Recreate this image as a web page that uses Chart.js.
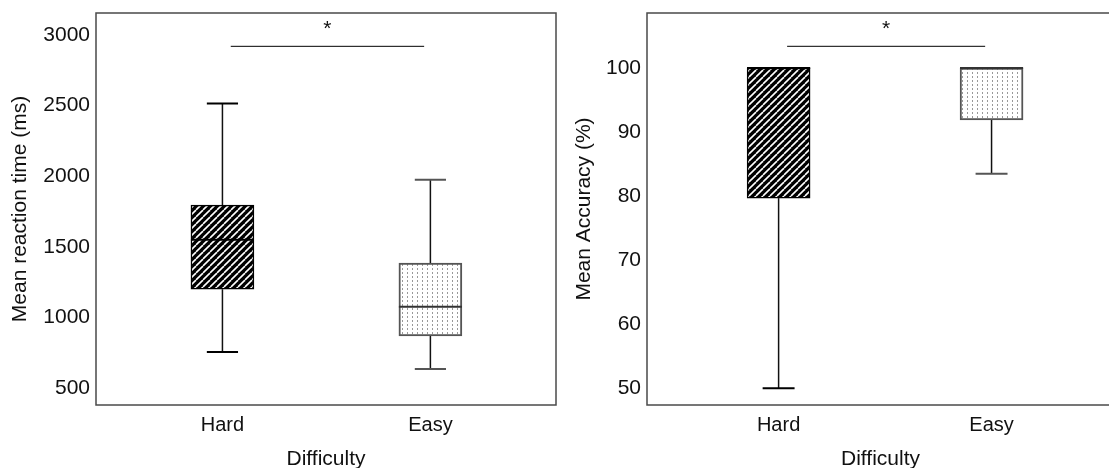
<!DOCTYPE html>
<html>
<head>
<meta charset="utf-8">
<script src="https://cdn.jsdelivr.net/npm/chart.js@4.4.1/dist/chart.umd.min.js"></script>
<style>
  body { margin: 0; background: #fff; overflow: hidden; }
  #wrap { position: relative; width: 1109px; height: 468px; overflow: hidden; }
  canvas { position: absolute; top: 0; }
  #rt { left: 0; }
  #acc { left: 560px; }
</style>
</head>
<body>
<div id="wrap">
  <canvas id="rt" width="560" height="468"></canvas>
  <canvas id="acc" width="554" height="468"></canvas>
</div>
<script>
const categories = ['Hard', 'Easy'];

// mean reaction time (ms)
const rtMin = [755, 635];
const rtQ1 = [1200, 870];
const rtMedian = [1550, 1075];
const rtQ3 = [1795, 1385];
const rtMax = [2515, 1975];
const rtTicks = [500, 1000, 1500, 2000, 2500, 3000];
const rtSig = 2920;

// mean accuracy (%)
const accMin = [50, 83.5];
const accQ1 = [79.7, 91.9];
const accMedian = [100, 100];
const accQ3 = [100, 100];
const accMax = [100, 100];
const accTicks = [50, 60, 70, 80, 90, 100];
const accSig = 103.4;

const FONT = "'Liberation Sans', Arial, sans-serif";
const TEXT = '#111';

function hatchPattern() {
  const c = document.createElement('canvas');
  c.width = 7; c.height = 7;
  const g = c.getContext('2d');
  g.fillStyle = '#000';
  g.fillRect(0, 0, 7, 7);
  g.strokeStyle = '#fff';
  g.lineWidth = 1.6;
  [-7, 0, 7].forEach(o => {
    g.beginPath();
    g.moveTo(o, 7);
    g.lineTo(o + 7, 0);
    g.stroke();
  });
  return g.createPattern(c, 'repeat');
}

function dotPattern() {
  const c = document.createElement('canvas');
  c.width = 5; c.height = 4;
  const g = c.getContext('2d');
  g.fillStyle = '#fff';
  g.fillRect(0, 0, 5, 4);
  g.fillStyle = '#999';
  g.fillRect(2, 0, 1, 2);
  return g.createPattern(c, 'repeat');
}

const boxFill = [hatchPattern(), dotPattern()];
const boxLine = ['#000', '#555'];

function boxParts(st) {
  return {
    id: 'boxParts',
    beforeDatasetsDraw(chart) {
      const {ctx, scales: {x, y}} = chart;
      ctx.save();
      categories.forEach((c, i) => {
        const px = x.getPixelForValue(i + 1);
        const half = x.getPixelForValue(i + 1.075) - px;
        ctx.strokeStyle = '#111';
        ctx.lineWidth = 1.5;
        ctx.beginPath();
        if (st.max[i] > st.q3[i]) {
          ctx.moveTo(px, y.getPixelForValue(st.q3[i]));
          ctx.lineTo(px, y.getPixelForValue(st.max[i]));
        }
        if (st.min[i] < st.q1[i]) {
          ctx.moveTo(px, y.getPixelForValue(st.q1[i]));
          ctx.lineTo(px, y.getPixelForValue(st.min[i]));
        }
        ctx.stroke();
        ctx.strokeStyle = boxLine[i];
        ctx.lineWidth = 2;
        ctx.beginPath();
        [st.min[i], st.max[i]].forEach(v => {
          const py = y.getPixelForValue(v);
          ctx.moveTo(px - half, py);
          ctx.lineTo(px + half, py);
        });
        ctx.stroke();
      });
      ctx.restore();
    },
    afterDatasetsDraw(chart) {
      const {ctx, scales: {x, y}} = chart;
      const bars = chart.getDatasetMeta(0).data;
      ctx.save();
      categories.forEach((c, i) => {
        const b = bars[i];
        const py = y.getPixelForValue(st.median[i]);
        ctx.strokeStyle = i === 0 ? '#000' : '#333';
        ctx.lineWidth = 2;
        ctx.beginPath();
        ctx.moveTo(b.x - b.width / 2, py);
        ctx.lineTo(b.x + b.width / 2, py);
        ctx.stroke();
        [st.max[i], st.min[i]].forEach(v => {
          if (v === st.q3[i] || v === st.q1[i]) {
            const vy = y.getPixelForValue(v);
            ctx.beginPath();
            ctx.moveTo(b.x - b.width / 2, vy);
            ctx.lineTo(b.x + b.width / 2, vy);
            ctx.stroke();
          }
        });
      });
      // significance bar
      const sy = y.getPixelForValue(st.sig);
      const x1 = x.getPixelForValue(1.04);
      const x2 = x.getPixelForValue(1.97);
      ctx.strokeStyle = '#000';
      ctx.lineWidth = 1;
      ctx.beginPath();
      ctx.moveTo(x1, sy);
      ctx.lineTo(x2, sy);
      ctx.stroke();
      ctx.fillStyle = TEXT;
      ctx.font = '21px ' + FONT;
      ctx.textAlign = 'center';
      ctx.textBaseline = 'alphabetic';
      ctx.fillText('*', (x1 + x2) / 2, sy - 11);
      // frame
      const a = chart.chartArea;
      ctx.strokeStyle = '#4a4a4a';
      ctx.lineWidth = 1.5;
      ctx.strokeRect(a.left, a.top, a.right - a.left, a.bottom - a.top);
      ctx.restore();
    }
  };
}

function makeBoxChart(id, st, cfg) {
  return new Chart(document.getElementById(id), {
    type: 'bar',
    data: {
      datasets: [{
        data: categories.map((c, i) => ({x: i + 1, y: [st.q1[i], st.q3[i]]})),
        backgroundColor: boxFill,
        borderColor: boxLine,
        borderWidth: [1.5, 2],
        borderSkipped: false,
        barThickness: 63
      }]
    },
    options: {
      responsive: false,
      animation: false,
      layout: {padding: {top: 13, right: cfg.padRight, left: 0, bottom: 0}},
      plugins: {legend: {display: false}, tooltip: {enabled: false}},
      scales: {
        x: {
          type: 'linear',
          offset: false,
          min: cfg.xMin,
          max: cfg.xMax,
          afterBuildTicks: a => { a.ticks = categories.map((c, i) => ({value: i + 1})); },
          ticks: {
            callback: v => categories[v - 1],
            color: TEXT,
            font: {family: FONT, size: 20},
            padding: 8,
            maxRotation: 0
          },
          grid: {display: false, drawTicks: false},
          border: {display: false},
          title: {display: true, text: 'Difficulty', color: TEXT, font: {family: FONT, size: 21, lineHeight: 0.8}, padding: {top: 0, bottom: 0}},
          afterFit: a => { a.height = 63; a.paddingLeft = 0; a.paddingRight = 0; }
        },
        y: {
          min: cfg.yMin,
          max: cfg.yMax,
          beginAtZero: false,
          afterBuildTicks: a => { a.ticks = cfg.ticks.map(v => ({value: v})); },
          ticks: {color: TEXT, font: {family: FONT, size: 21}, padding: 6, callback: v => String(v)},
          grid: {display: false, drawTicks: false},
          border: {display: false},
          title: {display: true, text: cfg.title, color: TEXT, font: {family: FONT, size: 21}, padding: {top: cfg.titlePad, bottom: 0}},
          afterFit: a => { a.width = cfg.yWidth; a.paddingTop = 0; a.paddingBottom = 0; }
        }
      }
    },
    plugins: [boxParts(st)]
  });
}

makeBoxChart('rt',
  {min: rtMin, q1: rtQ1, median: rtMedian, q3: rtQ3, max: rtMax, sig: rtSig},
  {xMin: 0.392, xMax: 2.604, yMin: 380, yMax: 3156, ticks: rtTicks,
   title: 'Mean reaction time (ms)', titlePad: 8, yWidth: 96, padRight: 4});

makeBoxChart('acc',
  {min: accMin, q1: accQ1, median: accMedian, q3: accQ3, max: accMax, sig: accSig},
  {xMin: 0.382, xMax: 2.575, yMin: 47.4, yMax: 108.6, ticks: accTicks,
   title: 'Mean Accuracy (%)', titlePad: 12, yWidth: 87, padRight: 0});
</script>
</body>
</html>
